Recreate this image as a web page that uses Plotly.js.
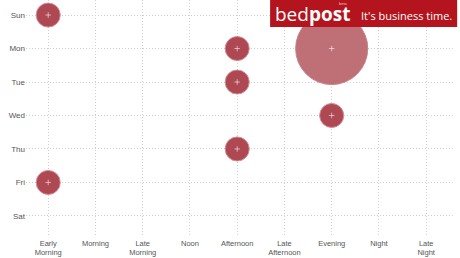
<!DOCTYPE html>
<html><head><meta charset="utf-8">
<script src="https://cdn.plot.ly/plotly-3.0.1.min.js"></script>
<style>html,body{margin:0;padding:0;background:#fff}#c{width:460px;height:258px}</style>
</head><body><div id="c"></div>
<script>
const days = ['Sun','Mon','Tue','Wed','Thu','Fri','Sat'];
const slots = ['Early<br>Morning','Morning','Late<br>Morning','Noon','Afternoon','Late<br>Afternoon','Evening','Night','Late<br>Night'];
const pointSlot = ['Early<br>Morning','Afternoon','Evening','Afternoon','Evening','Afternoon','Early<br>Morning'];
const pointDay  = ['Sun','Mon','Mon','Tue','Wed','Thu','Fri'];
const pointCount = [1,1,9,1,1,1,1];

const colors = pointCount.map(c => c > 1 ? 'rgb(190,112,118)' : 'rgb(174,72,82)');
const lines = pointCount.map(c => c > 1 ? 'rgb(200,130,136)' : 'rgb(214,140,148)');

const traces = [
  {type:'scatter', mode:'markers', x:pointSlot, y:pointDay,
   marker:{size:pointCount, sizemode:'area', sizeref:1/289, opacity:1, color:colors, line:{color:lines, width:1}},
   hoverinfo:'none'},
  {type:'scatter', mode:'markers', x:pointSlot, y:pointDay,
   marker:{symbol:'cross-thin', size:4, opacity:1, line:{color:'rgba(255,255,255,0.55)', width:1}},
   hoverinfo:'none'}
];

const layout = {
  width:460, height:258, showlegend:false,
  paper_bgcolor:'#fff', plot_bgcolor:'#fff',
  margin:{l:26, r:5, t:0, b:21},
  font:{family:'Liberation Sans, Arial, sans-serif', size:8, color:'#555'},
  xaxis:{type:'category', categoryorder:'array', categoryarray:slots, tickvals:slots, ticktext:slots,
         range:[-0.47, 8.61], showgrid:true, gridcolor:'#cfcfcf', griddash:'1px,2px', gridwidth:1,
         zeroline:false, showline:false, ticks:'', ticklabelstandoff:0,
         tickfont:{size:7.5, color:'#555'}, fixedrange:true},
  yaxis:{type:'category', categoryorder:'array', categoryarray:days, tickvals:days,
         range:[6.63, -0.45], showgrid:true, gridcolor:'#cfcfcf', griddash:'1px,2px', gridwidth:1,
         zeroline:false, showline:false, ticks:'', tickfont:{size:8, color:'#555'}, fixedrange:true},
  shapes:[{type:'rect', xref:'paper', yref:'paper', x0:0.569, x1:1.005, y0:0.886, y1:1.0,
           fillcolor:'#b3141d', line:{width:0}, layer:'above'}],
  annotations:[
    {xref:'paper', yref:'paper', x:0.575, y:0.94, xanchor:'left', yanchor:'middle', showarrow:false,
     text:'bed<b>post</b>', font:{family:'Open Sans, sans-serif', size:19, color:'#fff'}},
    {xref:'paper', yref:'paper', x:0.74, y:1.0, xanchor:'center', yanchor:'top', showarrow:false,
     borderpad:0, text:'beta', font:{family:'Liberation Sans, sans-serif', size:4, color:'#f3c0c0'}},
    {xref:'paper', yref:'paper', x:0.998, y:0.935, xanchor:'right', yanchor:'middle', showarrow:false,
     text:"It's business time.", font:{family:'Open Sans, sans-serif', size:11, color:'#fff'}}
  ]
};
Plotly.newPlot('c', traces, layout, {displayModeBar:false, staticPlot:true});
</script></body></html>
